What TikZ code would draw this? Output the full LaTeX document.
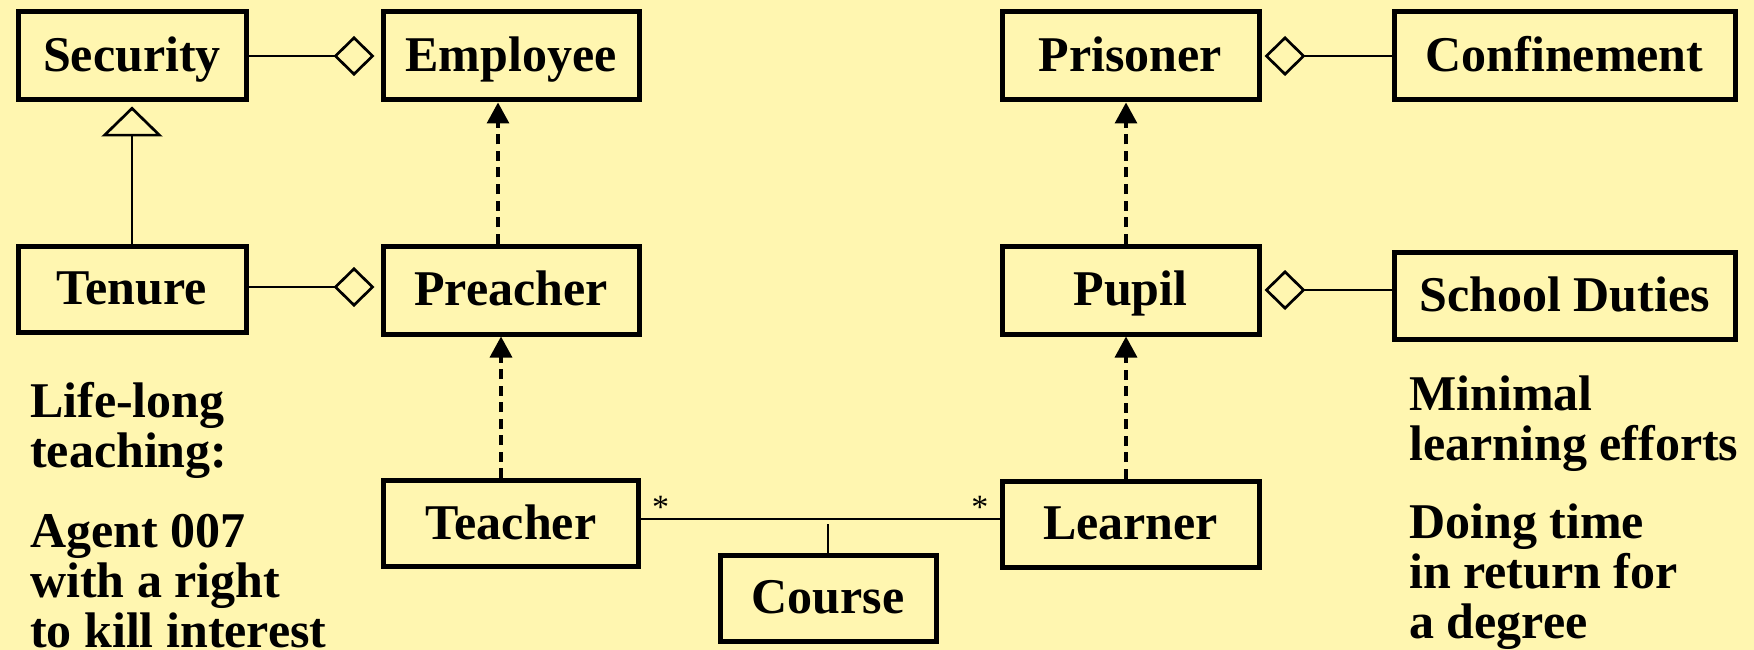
\documentclass[tikz,border=0pt]{standalone}
\usepackage{fontspec}
\setmainfont{Liberation Serif}
\usetikzlibrary{arrows.meta}
\definecolor{paper}{RGB}{255,246,176}
\begin{document}
\begin{tikzpicture}[x=1pt,y=-1pt,
  cls/.style={draw, line width=5pt, inner sep=0pt, minimum width=#1,
    font=\fontsize{50}{50}\selectfont\bfseries, text height=33pt, text depth=2pt},
  agg/.style={line width=2.7pt, -{Diamond[open, length=41pt, width=40pt]}},
  gen/.style={line width=2.7pt, -{Triangle[open, length=30pt, width=61pt]}, shorten >=4pt},
  dep/.style={line width=3.3pt, dash pattern=on 10pt off 6.5pt, -{Triangle[length=21pt, width=22pt]}},
  note/.style={anchor=base west, align=left, inner sep=0pt,
    font=\fontsize{50}{50}\selectfont\bfseries},
  mult/.style={anchor=base, inner sep=0pt, yshift=0.5pt, font=\fontsize{34}{34}\selectfont}]
\fill[paper] (0,0) rectangle (1754,650);
\useasboundingbox (0,0) rectangle (1754,650);

% class boxes
\node[cls=228, minimum height=88] (sec) at (132,56)     {Security};
\node[cls=256, minimum height=88] (emp) at (511,56)     {Employee};
\node[cls=228, minimum height=86] (ten) at (132,289)    {Tenure};
\node[cls=256, minimum height=88] (pre) at (511,290)    {Preacher};
\node[cls=255, minimum height=86] (tea) at (511,523.5)  {Teacher};
\node[cls=216, minimum height=86] (cou) at (828,598)    {Course};
\node[cls=257, minimum height=86] (lea) at (1130.5,524) {Learner};
\node[cls=257, minimum height=88] (pup) at (1130.5,290) {Pupil};
\node[cls=257, minimum height=88] (pri) at (1130.5,56)  {Prisoner};
\node[cls=341, minimum height=88] (con) at (1564.5,56)  {Confinement};
\node[cls=341, minimum height=87] (sch) at (1564.5,295.5) {School Duties};

% aggregations
\draw[agg, shorten >=6pt] (sec.east) -- (emp.west);
\draw[agg, shorten >=6pt] (ten.east |- 0,287) -- (pre.west |- 0,287);
\draw[agg, shorten >=3pt] (con.west) -- (pri.east);
\draw[agg, shorten >=3pt] (sch.west |- 0,290) -- (pup.east |- 0,290);

% generalization
\draw[gen] (ten.north) -- (sec.south);

% dependencies
\draw[dep] ([xshift=-13pt]pre.north) -- ([xshift=-13pt]emp.south);
\draw[dep] ([xshift=-10pt]tea.north) -- ([xshift=-10pt]pre.south);
\draw[dep] ([xshift=-4.5pt]pup.north) -- ([xshift=-4.5pt]pri.south);
\draw[dep] ([xshift=-4.5pt]lea.north) -- ([xshift=-4.5pt]pup.south);

% association with association class
\draw[line width=2.7pt] (tea.east |- 0,519) -- (lea.west |- 0,519)
  node[mult, pos=0.055] {*} node[mult, pos=0.945] {*};
\draw[line width=2.7pt] (cou.north) -- ++(0,-29);

% notes (placed by the baseline of their last line)
\node[note] (lnote1) at (30,467)   {Life-long\\teaching:};
\node[note] (lnote2) at (30,647)   {Agent 007\\with a right\\to kill interest};
\node[note] (rnote1) at (1409,460) {Minimal\\learning efforts};
\node[note] (rnote2) at (1409,638) {Doing time\\in return for\\a degree};
\end{tikzpicture}
\end{document}
